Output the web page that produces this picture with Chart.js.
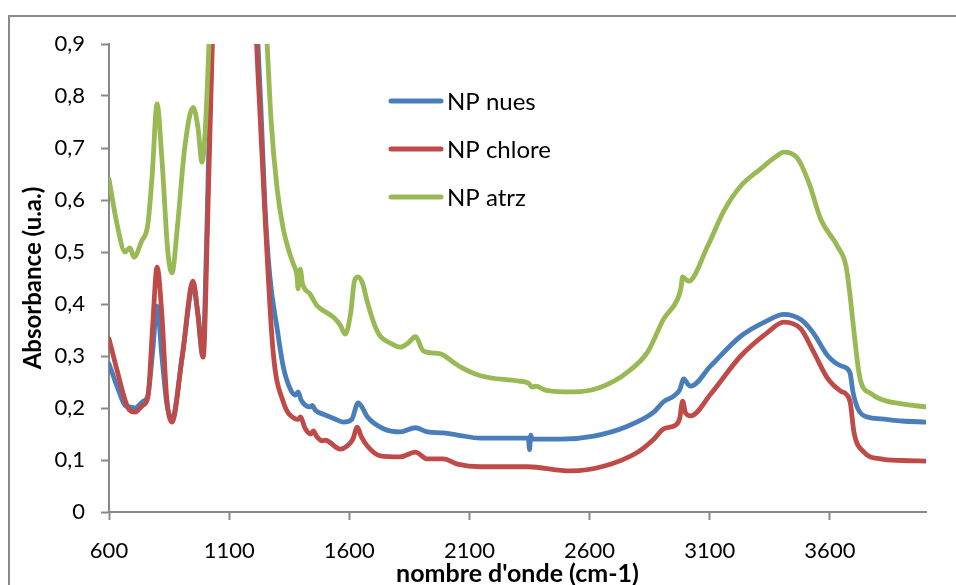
<!DOCTYPE html>
<html>
<head>
<meta charset="utf-8">
<script src="https://cdn.jsdelivr.net/npm/chart.js@4.4.1/dist/chart.umd.min.js"></script>
<style>
  html, body { margin: 0; padding: 0; background: #fff; overflow: hidden; }
  #wrap { position: relative; width: 956px; height: 585px; }
</style>
</head>
<body>
<div id="wrap"><canvas id="mycanvas" width="956" height="585"></canvas></div>
<script>
// wavenumbers (cm-1) and absorbance
var nuesX = [600,635,667,687,708,740,762,782,800,820,840,862,905,950,970,990,1005,1029,1070,1120,1180,1215,1232,1250,1270,1300,1325,1354,1375,1387,1400,1437,1445,1460,1492,1535,1575,1610,1637,1655,1675,1742,1812,1875,1925,1992,2050,2146,2312,2345,2350,2355,2362,2479,2617,2758,2867,2908,2950,2975,2992,3010,3021,3104,3229,3340,3408,3479,3530,3592,3646,3683,3696,3717,3760,3812,3900,4000];
var nuesY = [0.285,0.24,0.205,0.202,0.200,0.212,0.225,0.31,0.396,0.30,0.21,0.179,0.30,0.435,0.38,0.30,0.50,0.95,1.3,1.6,1.4,0.95,0.78,0.58,0.45,0.352,0.28,0.237,0.225,0.231,0.215,0.202,0.205,0.195,0.188,0.18,0.173,0.178,0.21,0.2,0.183,0.16,0.154,0.162,0.154,0.152,0.148,0.142,0.142,0.142,0.12,0.148,0.14,0.140,0.146,0.165,0.192,0.212,0.223,0.235,0.256,0.245,0.242,0.281,0.338,0.368,0.380,0.370,0.345,0.30,0.281,0.269,0.231,0.198,0.182,0.179,0.175,0.173];

var chloreX = [600,635,667,687,708,740,762,782,800,820,840,862,905,950,970,992,1010,1033,1070,1120,1180,1210,1230,1250,1283,1325,1375,1387,1396,1417,1440,1450,1465,1487,1500,1562,1592,1615,1633,1650,1675,1729,1812,1875,1925,1992,2050,2146,2342,2521,2658,2800,2867,2908,2958,2975,2987,3000,3021,3104,3229,3340,3408,3479,3530,3592,3646,3667,3685,3700,3742,3812,3900,4000];
var chloreY = [0.333,0.27,0.215,0.195,0.192,0.205,0.221,0.36,0.471,0.38,0.22,0.173,0.30,0.444,0.38,0.298,0.55,0.95,1.3,1.6,1.4,0.95,0.75,0.563,0.308,0.212,0.179,0.178,0.183,0.160,0.150,0.156,0.145,0.137,0.138,0.121,0.127,0.14,0.163,0.145,0.127,0.108,0.106,0.115,0.102,0.102,0.092,0.087,0.087,0.079,0.088,0.115,0.140,0.160,0.167,0.18,0.213,0.19,0.185,0.227,0.30,0.345,0.365,0.352,0.31,0.256,0.232,0.227,0.21,0.154,0.115,0.102,0.099,0.098];

var atrzX = [600,635,667,678,687,704,735,762,780,800,820,845,862,885,915,950,970,987,1000,1021,1060,1120,1190,1235,1258,1275,1300,1325,1350,1367,1382,1387,1396,1405,1437,1467,1500,1533,1562,1583,1605,1622,1637,1655,1675,1705,1729,1770,1812,1845,1875,1908,1979,2033,2062,2146,2300,2345,2362,2375,2420,2533,2646,2758,2842,2908,2967,2980,2987,3012,3092,3160,3229,3312,3380,3408,3467,3515,3562,3633,3667,3683,3696,3717,3729,3770,3812,3900,4000];
var atrzY = [0.64,0.55,0.50,0.505,0.508,0.49,0.52,0.554,0.65,0.785,0.68,0.50,0.46,0.55,0.70,0.778,0.74,0.673,0.73,0.95,1.3,1.6,1.5,1.1,0.9,0.75,0.62,0.545,0.50,0.477,0.455,0.429,0.467,0.44,0.419,0.396,0.385,0.375,0.36,0.342,0.38,0.445,0.452,0.44,0.404,0.36,0.338,0.325,0.317,0.325,0.337,0.31,0.304,0.288,0.279,0.262,0.252,0.248,0.24,0.242,0.234,0.231,0.24,0.269,0.308,0.371,0.41,0.43,0.452,0.444,0.512,0.58,0.627,0.66,0.685,0.692,0.679,0.63,0.563,0.51,0.473,0.42,0.365,0.28,0.25,0.228,0.217,0.208,0.202];

var seriesNames = ['NP nues', 'NP chlore', 'NP atrz'];
var xTicks = [600,1100,1600,2100,2600,3100,3600];
var yTicks = [0,0.1,0.2,0.3,0.4,0.5,0.6,0.7,0.8,0.9];

var colors = ['#4A7EBB', '#BE4B48', '#98B954'];
var axisGrey = '#898989';
var FONT = 'Lato, "Open Sans", sans-serif';

function toPoints(xs, ys){
	var pts = [];
	for (var i in xs){
		pts.push({x: xs[i], y: ys[i]});
	}
	return pts;
}

var chartdata = {
	datasets: [
		{label: seriesNames[0], data: toPoints(nuesX, nuesY), borderColor: colors[0], order: 3},
		{label: seriesNames[1], data: toPoints(chloreX, chloreY), borderColor: colors[1], order: 2},
		{label: seriesNames[2], data: toPoints(atrzX, atrzY), borderColor: colors[2], order: 1}
	]
};
chartdata.datasets.forEach(function(d){
	d.borderWidth = 4.8;
	d.pointRadius = 0;
	d.fill = false;
	d.cubicInterpolationMode = 'monotone';
	d.borderCapStyle = 'round';
	d.borderJoinStyle = 'round';
});

// outer frame of the chart (cropped on the right and bottom)
var framePlugin = {
	id: 'frame',
	beforeDraw: function(chart){
		var ctx = chart.ctx;
		ctx.save();
		ctx.fillStyle = '#fff';
		ctx.fillRect(0, 0, chart.width, chart.height);
		ctx.strokeStyle = '#8a8a8a';
		ctx.lineWidth = 2;
		ctx.beginPath();
		ctx.moveTo(9, chart.height + 5);
		ctx.lineTo(9, 16);
		ctx.lineTo(chart.width + 5, 16);
		ctx.stroke();
		ctx.restore();
	}
};

// legend drawn inside the plot area
var legendPlugin = {
	id: 'insideLegend',
	afterDraw: function(chart){
		var ctx = chart.ctx;
		var ys = [101, 149, 197];
		ctx.save();
		ctx.font = '24px ' + FONT;
		ctx.textBaseline = 'middle';
		ctx.lineCap = 'round';
		for (var i = 0; i < seriesNames.length; i++){
			ctx.strokeStyle = colors[i];
			ctx.lineWidth = 5;
			ctx.beginPath();
			ctx.moveTo(391, ys[i]);
			ctx.lineTo(441, ys[i]);
			ctx.stroke();
			ctx.fillStyle = '#000';
			ctx.fillText(seriesNames[i], 447, ys[i] + 1);
		}
		ctx.restore();
	}
};

var cxt = document.getElementById('mycanvas');
var lineGraph = new Chart(cxt, {
	type: 'line',
	data: chartdata,
	plugins: [framePlugin, legendPlugin],
	options: {
		responsive: false,
		animation: false,
		layout: {padding: {left: 0, right: 30, top: 44, bottom: 0}},
		plugins: {legend: {display: false}, tooltip: {enabled: false}},
		scales: {
			x: {
				type: 'linear',
				min: 600,
				max: 4000,
				afterBuildTicks: function(scale){
					scale.ticks = xTicks.map(function(v){ return {value: v}; });
				},
				afterFit: function(scale){ scale.height = 73; },
				grid: {drawOnChartArea: false, tickLength: 8, tickColor: axisGrey, tickWidth: 2},
				border: {color: axisGrey, width: 2},
				ticks: {
					color: '#000', font: {family: FONT, size: 22}, padding: 18, maxRotation: 0, autoSkip: false,
					callback: function(v){ return String(v); }
				},
				title: {display: true, text: "nombre d'onde (cm-1)", color: '#000', font: {family: FONT, size: 25, weight: 'bold'}, padding: {top: 0, bottom: -4}}
			},
			y: {
				min: 0,
				max: 0.9,
				afterBuildTicks: function(scale){
					scale.ticks = yTicks.map(function(v){ return {value: v}; });
				},
				afterFit: function(scale){ scale.width = 109; },
				grid: {drawOnChartArea: false, tickLength: 8, tickColor: axisGrey, tickWidth: 2},
				border: {color: axisGrey, width: 2},
				ticks: {
					color: '#000', font: {family: FONT, size: 22}, padding: 16, autoSkip: false,
					callback: function(v){ return v === 0 ? '0' : v.toFixed(1).replace('.', ','); }
				},
				title: {display: true, text: 'Absorbance (u.a.)', color: '#000', font: {family: FONT, size: 24, weight: 'bold'}, padding: {top: 19, bottom: 0}}
			}
		}
	}
});
</script>
</body>
</html>
